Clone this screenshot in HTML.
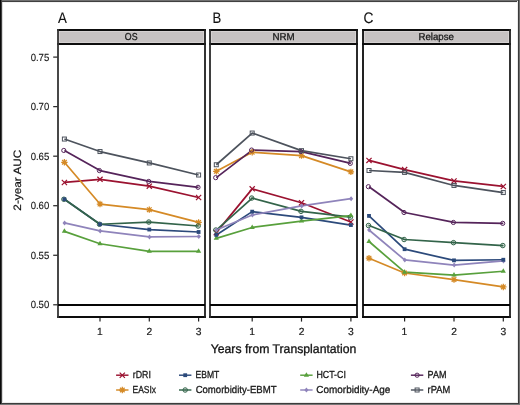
<!DOCTYPE html>
<html><head><meta charset="utf-8"><style>
html,body{margin:0;padding:0;background:#fff;width:520px;height:405px;overflow:hidden}
svg text{filter:grayscale(1);text-rendering:geometricPrecision}
</style></head><body>
<svg width="520" height="405" viewBox="0 0 520 405" style="display:block"><rect x="0" y="0" width="520" height="405" fill="#ffffff"/><rect x="58" y="30" width="147" height="14" fill="#c6c2c2"/><rect x="59.3" y="31.3" width="144.4" height="11.4" fill="none" stroke="#dcd8d8" stroke-width="0.8"/><line x1="57.1" y1="30" x2="205.9" y2="30" stroke="#0d0d0d" stroke-width="1.8"/><line x1="57.1" y1="44" x2="205.9" y2="44" stroke="#0d0d0d" stroke-width="1.8"/><line x1="57.1" y1="317" x2="205.9" y2="317" stroke="#0d0d0d" stroke-width="1.8"/><line x1="58" y1="29.1" x2="58" y2="317.9" stroke="#353535" stroke-width="1.8"/><line x1="205" y1="29.1" x2="205" y2="317.9" stroke="#1e1e1e" stroke-width="1.8"/><text x="124.80" y="39.90" font-family='"Liberation Sans", sans-serif' font-size="10" fill="#1a1a1a" stroke="#1a1a1a" stroke-width="0.3" textLength="12.72" lengthAdjust="spacingAndGlyphs">OS</text><text x="58.12" y="22.75" font-family='"Liberation Sans", sans-serif' font-size="15.3" fill="#111" stroke="#111" stroke-width="0.12" textLength="8.87" lengthAdjust="spacingAndGlyphs">A</text><line x1="58" y1="305" x2="205" y2="305" stroke="#050505" stroke-width="1.8"/><line x1="100" y1="317.9" x2="100" y2="321.6" stroke="#222" stroke-width="1.2"/><text x="96.99" y="334.50" font-family='"Liberation Sans", sans-serif' font-size="10.3" fill="#1a1a1a" stroke="#1a1a1a" stroke-width="0.2" textLength="5.73" lengthAdjust="spacingAndGlyphs">1</text><line x1="149.3" y1="317.9" x2="149.3" y2="321.6" stroke="#222" stroke-width="1.2"/><text x="146.46" y="334.50" font-family='"Liberation Sans", sans-serif' font-size="10.3" fill="#1a1a1a" stroke="#1a1a1a" stroke-width="0.2" textLength="5.73" lengthAdjust="spacingAndGlyphs">2</text><line x1="198.6" y1="317.9" x2="198.6" y2="321.6" stroke="#222" stroke-width="1.2"/><text x="195.72" y="334.50" font-family='"Liberation Sans", sans-serif' font-size="10.3" fill="#1a1a1a" stroke="#1a1a1a" stroke-width="0.2" textLength="5.73" lengthAdjust="spacingAndGlyphs">3</text><polyline points="64.40,182.45 100.00,179.35 149.30,186.15 198.60,197.50" fill="none" stroke="#9b1230" stroke-width="1.7" stroke-linejoin="round"/><polyline points="64.40,162.25 100.00,204.05 149.30,209.65 198.60,222.40" fill="none" stroke="#d58a26" stroke-width="1.7" stroke-linejoin="round"/><polyline points="64.40,199.25 100.00,224.25 149.30,229.55 198.60,232.00" fill="none" stroke="#2c4a7b" stroke-width="1.7" stroke-linejoin="round"/><polyline points="64.40,199.25 100.00,224.25 149.30,222.05 198.60,226.00" fill="none" stroke="#33644a" stroke-width="1.7" stroke-linejoin="round"/><polyline points="64.40,231.35 100.00,243.75 149.30,251.35 198.60,251.30" fill="none" stroke="#58a03c" stroke-width="1.7" stroke-linejoin="round"/><polyline points="64.40,222.95 100.00,230.95 149.30,236.95 198.60,236.50" fill="none" stroke="#8f84bb" stroke-width="1.7" stroke-linejoin="round"/><polyline points="64.40,150.45 100.00,170.55 149.30,181.45 198.60,187.30" fill="none" stroke="#55245a" stroke-width="1.7" stroke-linejoin="round"/><polyline points="64.40,139.05 100.00,151.55 149.30,162.95 198.60,175.00" fill="none" stroke="#4d535d" stroke-width="1.7" stroke-linejoin="round"/><path d="M61.80,179.85L67.00,185.05M61.80,185.05L67.00,179.85" stroke="#9b1230" stroke-width="1.2" fill="none"/><path d="M97.40,176.75L102.60,181.95M97.40,181.95L102.60,176.75" stroke="#9b1230" stroke-width="1.2" fill="none"/><path d="M146.70,183.55L151.90,188.75M146.70,188.75L151.90,183.55" stroke="#9b1230" stroke-width="1.2" fill="none"/><path d="M196.00,194.90L201.20,200.10M196.00,200.10L201.20,194.90" stroke="#9b1230" stroke-width="1.2" fill="none"/><path d="M61.20,162.25H67.60M64.40,159.05V165.45M62.10,159.95L66.70,164.55M62.10,164.55L66.70,159.95" stroke="#d58a26" stroke-width="1.25" fill="none"/><path d="M96.80,204.05H103.20M100.00,200.85V207.25M97.70,201.75L102.30,206.35M97.70,206.35L102.30,201.75" stroke="#d58a26" stroke-width="1.25" fill="none"/><path d="M146.10,209.65H152.50M149.30,206.45V212.85M147.00,207.35L151.60,211.95M147.00,211.95L151.60,207.35" stroke="#d58a26" stroke-width="1.25" fill="none"/><path d="M195.40,222.40H201.80M198.60,219.20V225.60M196.30,220.10L200.90,224.70M196.30,224.70L200.90,220.10" stroke="#d58a26" stroke-width="1.25" fill="none"/><circle cx="63.90" cy="199.25" r="2.25" fill="none" stroke="#33644a" stroke-width="1.0"/><path d="M61.65,199.25H66.15M63.90,197.00V201.50" stroke="#33644a" stroke-width="0.45" stroke-opacity="0.8"/><circle cx="99.50" cy="224.25" r="2.25" fill="none" stroke="#33644a" stroke-width="1.0"/><path d="M97.25,224.25H101.75M99.50,222.00V226.50" stroke="#33644a" stroke-width="0.45" stroke-opacity="0.8"/><circle cx="148.80" cy="222.05" r="2.25" fill="none" stroke="#33644a" stroke-width="1.0"/><path d="M146.55,222.05H151.05M148.80,219.80V224.30" stroke="#33644a" stroke-width="0.45" stroke-opacity="0.8"/><circle cx="198.10" cy="226.00" r="2.25" fill="none" stroke="#33644a" stroke-width="1.0"/><path d="M195.85,226.00H200.35M198.10,223.75V228.25" stroke="#33644a" stroke-width="0.45" stroke-opacity="0.8"/><path d="M64.60,220.45L66.70,222.95L64.60,225.45L62.50,222.95Z" fill="#8f84bb"/><path d="M100.20,228.45L102.30,230.95L100.20,233.45L98.10,230.95Z" fill="#8f84bb"/><path d="M149.50,234.45L151.60,236.95L149.50,239.45L147.40,236.95Z" fill="#8f84bb"/><path d="M198.80,234.00L200.90,236.50L198.80,239.00L196.70,236.50Z" fill="#8f84bb"/><path d="M64.40,228.35L67.00,232.85L61.80,232.85Z" fill="#58a03c"/><path d="M100.00,240.75L102.60,245.25L97.40,245.25Z" fill="#58a03c"/><path d="M149.30,248.35L151.90,252.85L146.70,252.85Z" fill="#58a03c"/><path d="M198.60,248.30L201.20,252.80L196.00,252.80Z" fill="#58a03c"/><rect x="62.50" y="197.35" width="3.80" height="3.80" fill="#2c4a7b"/><rect x="98.10" y="222.35" width="3.80" height="3.80" fill="#2c4a7b"/><rect x="147.40" y="227.65" width="3.80" height="3.80" fill="#2c4a7b"/><rect x="196.70" y="230.10" width="3.80" height="3.80" fill="#2c4a7b"/><circle cx="63.80" cy="150.45" r="2.1" fill="none" stroke="#55245a" stroke-width="1.0"/><circle cx="99.40" cy="170.55" r="2.1" fill="none" stroke="#55245a" stroke-width="1.0"/><circle cx="148.70" cy="181.45" r="2.1" fill="none" stroke="#55245a" stroke-width="1.0"/><circle cx="198.00" cy="187.30" r="2.1" fill="none" stroke="#55245a" stroke-width="1.0"/><rect x="62.40" y="137.05" width="4.00" height="4.00" fill="none" stroke="#4d535d" stroke-width="1.0"/><rect x="98.00" y="149.55" width="4.00" height="4.00" fill="none" stroke="#4d535d" stroke-width="1.0"/><rect x="147.30" y="160.95" width="4.00" height="4.00" fill="none" stroke="#4d535d" stroke-width="1.0"/><rect x="196.60" y="173.00" width="4.00" height="4.00" fill="none" stroke="#4d535d" stroke-width="1.0"/><rect x="210" y="30" width="147" height="14" fill="#c6c2c2"/><rect x="211.3" y="31.3" width="144.4" height="11.4" fill="none" stroke="#dcd8d8" stroke-width="0.8"/><line x1="209.1" y1="30" x2="357.9" y2="30" stroke="#0d0d0d" stroke-width="1.8"/><line x1="209.1" y1="44" x2="357.9" y2="44" stroke="#0d0d0d" stroke-width="1.8"/><line x1="209.1" y1="317" x2="357.9" y2="317" stroke="#0d0d0d" stroke-width="1.8"/><line x1="210" y1="29.1" x2="210" y2="317.9" stroke="#2a2a2a" stroke-width="1.8"/><line x1="357" y1="29.1" x2="357" y2="317.9" stroke="#141414" stroke-width="1.8"/><text x="272.54" y="39.90" font-family='"Liberation Sans", sans-serif' font-size="10" fill="#1a1a1a" stroke="#1a1a1a" stroke-width="0.3" textLength="22.20" lengthAdjust="spacingAndGlyphs">NRM</text><text x="212.46" y="22.75" font-family='"Liberation Sans", sans-serif' font-size="15.3" fill="#111" stroke="#111" stroke-width="0.12" textLength="8.77" lengthAdjust="spacingAndGlyphs">B</text><line x1="210" y1="305" x2="357" y2="305" stroke="#050505" stroke-width="1.8"/><line x1="252.2" y1="317.9" x2="252.2" y2="321.6" stroke="#222" stroke-width="1.2"/><text x="249.19" y="334.50" font-family='"Liberation Sans", sans-serif' font-size="10.3" fill="#1a1a1a" stroke="#1a1a1a" stroke-width="0.2" textLength="5.73" lengthAdjust="spacingAndGlyphs">1</text><line x1="301.5" y1="317.9" x2="301.5" y2="321.6" stroke="#222" stroke-width="1.2"/><text x="298.65" y="334.50" font-family='"Liberation Sans", sans-serif' font-size="10.3" fill="#1a1a1a" stroke="#1a1a1a" stroke-width="0.2" textLength="5.73" lengthAdjust="spacingAndGlyphs">2</text><line x1="350.9" y1="317.9" x2="350.9" y2="321.6" stroke="#222" stroke-width="1.2"/><text x="348.02" y="334.50" font-family='"Liberation Sans", sans-serif' font-size="10.3" fill="#1a1a1a" stroke="#1a1a1a" stroke-width="0.2" textLength="5.73" lengthAdjust="spacingAndGlyphs">3</text><polyline points="216.30,232.65 252.20,188.85 301.50,202.75 350.90,222.05" fill="none" stroke="#9b1230" stroke-width="1.7" stroke-linejoin="round"/><polyline points="216.30,171.35 252.20,152.25 301.50,155.65 350.90,171.85" fill="none" stroke="#d58a26" stroke-width="1.7" stroke-linejoin="round"/><polyline points="216.30,234.95 252.20,211.65 301.50,217.35 350.90,225.05" fill="none" stroke="#2c4a7b" stroke-width="1.7" stroke-linejoin="round"/><polyline points="216.30,230.05 252.20,198.05 301.50,211.35 350.90,217.15" fill="none" stroke="#33644a" stroke-width="1.7" stroke-linejoin="round"/><polyline points="216.30,238.35 252.20,227.45 301.50,221.05 350.90,215.55" fill="none" stroke="#58a03c" stroke-width="1.7" stroke-linejoin="round"/><polyline points="216.30,230.05 252.20,215.05 301.50,205.95 350.90,198.65" fill="none" stroke="#8f84bb" stroke-width="1.7" stroke-linejoin="round"/><polyline points="216.30,177.65 252.20,150.05 301.50,151.55 350.90,163.35" fill="none" stroke="#55245a" stroke-width="1.7" stroke-linejoin="round"/><polyline points="216.30,164.75 252.20,133.05 301.50,150.65 350.90,158.75" fill="none" stroke="#4d535d" stroke-width="1.7" stroke-linejoin="round"/><path d="M213.70,230.05L218.90,235.25M213.70,235.25L218.90,230.05" stroke="#9b1230" stroke-width="1.2" fill="none"/><path d="M249.60,186.25L254.80,191.45M249.60,191.45L254.80,186.25" stroke="#9b1230" stroke-width="1.2" fill="none"/><path d="M298.90,200.15L304.10,205.35M298.90,205.35L304.10,200.15" stroke="#9b1230" stroke-width="1.2" fill="none"/><path d="M348.30,219.45L353.50,224.65M348.30,224.65L353.50,219.45" stroke="#9b1230" stroke-width="1.2" fill="none"/><path d="M213.10,171.35H219.50M216.30,168.15V174.55M214.00,169.05L218.60,173.65M214.00,173.65L218.60,169.05" stroke="#d58a26" stroke-width="1.25" fill="none"/><path d="M249.00,152.25H255.40M252.20,149.05V155.45M249.90,149.95L254.50,154.55M249.90,154.55L254.50,149.95" stroke="#d58a26" stroke-width="1.25" fill="none"/><path d="M298.30,155.65H304.70M301.50,152.45V158.85M299.20,153.35L303.80,157.95M299.20,157.95L303.80,153.35" stroke="#d58a26" stroke-width="1.25" fill="none"/><path d="M347.70,171.85H354.10M350.90,168.65V175.05M348.60,169.55L353.20,174.15M348.60,174.15L353.20,169.55" stroke="#d58a26" stroke-width="1.25" fill="none"/><circle cx="215.80" cy="230.05" r="2.25" fill="none" stroke="#33644a" stroke-width="1.0"/><path d="M213.55,230.05H218.05M215.80,227.80V232.30" stroke="#33644a" stroke-width="0.45" stroke-opacity="0.8"/><circle cx="251.70" cy="198.05" r="2.25" fill="none" stroke="#33644a" stroke-width="1.0"/><path d="M249.45,198.05H253.95M251.70,195.80V200.30" stroke="#33644a" stroke-width="0.45" stroke-opacity="0.8"/><circle cx="301.00" cy="211.35" r="2.25" fill="none" stroke="#33644a" stroke-width="1.0"/><path d="M298.75,211.35H303.25M301.00,209.10V213.60" stroke="#33644a" stroke-width="0.45" stroke-opacity="0.8"/><circle cx="350.40" cy="217.15" r="2.25" fill="none" stroke="#33644a" stroke-width="1.0"/><path d="M348.15,217.15H352.65M350.40,214.90V219.40" stroke="#33644a" stroke-width="0.45" stroke-opacity="0.8"/><path d="M216.50,227.55L218.60,230.05L216.50,232.55L214.40,230.05Z" fill="#8f84bb"/><path d="M252.40,212.55L254.50,215.05L252.40,217.55L250.30,215.05Z" fill="#8f84bb"/><path d="M301.70,203.45L303.80,205.95L301.70,208.45L299.60,205.95Z" fill="#8f84bb"/><path d="M351.10,196.15L353.20,198.65L351.10,201.15L349.00,198.65Z" fill="#8f84bb"/><path d="M216.30,235.35L218.90,239.85L213.70,239.85Z" fill="#58a03c"/><path d="M252.20,224.45L254.80,228.95L249.60,228.95Z" fill="#58a03c"/><path d="M301.50,218.05L304.10,222.55L298.90,222.55Z" fill="#58a03c"/><path d="M350.90,212.55L353.50,217.05L348.30,217.05Z" fill="#58a03c"/><rect x="214.40" y="233.05" width="3.80" height="3.80" fill="#2c4a7b"/><rect x="250.30" y="209.75" width="3.80" height="3.80" fill="#2c4a7b"/><rect x="299.60" y="215.45" width="3.80" height="3.80" fill="#2c4a7b"/><rect x="349.00" y="223.15" width="3.80" height="3.80" fill="#2c4a7b"/><circle cx="215.70" cy="177.65" r="2.1" fill="none" stroke="#55245a" stroke-width="1.0"/><circle cx="251.60" cy="150.05" r="2.1" fill="none" stroke="#55245a" stroke-width="1.0"/><circle cx="300.90" cy="151.55" r="2.1" fill="none" stroke="#55245a" stroke-width="1.0"/><circle cx="350.30" cy="163.35" r="2.1" fill="none" stroke="#55245a" stroke-width="1.0"/><rect x="214.30" y="162.75" width="4.00" height="4.00" fill="none" stroke="#4d535d" stroke-width="1.0"/><rect x="250.20" y="131.05" width="4.00" height="4.00" fill="none" stroke="#4d535d" stroke-width="1.0"/><rect x="299.50" y="148.65" width="4.00" height="4.00" fill="none" stroke="#4d535d" stroke-width="1.0"/><rect x="348.90" y="156.75" width="4.00" height="4.00" fill="none" stroke="#4d535d" stroke-width="1.0"/><rect x="363" y="30" width="147" height="14" fill="#c6c2c2"/><rect x="364.3" y="31.3" width="144.4" height="11.4" fill="none" stroke="#dcd8d8" stroke-width="0.8"/><line x1="362.1" y1="30" x2="510.9" y2="30" stroke="#0d0d0d" stroke-width="1.8"/><line x1="362.1" y1="44" x2="510.9" y2="44" stroke="#0d0d0d" stroke-width="1.8"/><line x1="362.1" y1="317" x2="510.9" y2="317" stroke="#0d0d0d" stroke-width="1.8"/><line x1="363" y1="29.1" x2="363" y2="317.9" stroke="#0a0a0a" stroke-width="1.8"/><line x1="510" y1="29.1" x2="510" y2="317.9" stroke="#1e1e1e" stroke-width="1.8"/><text x="418.45" y="39.90" font-family='"Liberation Sans", sans-serif' font-size="10" fill="#1a1a1a" stroke="#1a1a1a" stroke-width="0.3" textLength="35.46" lengthAdjust="spacingAndGlyphs">Relapse</text><text x="363.41" y="22.75" font-family='"Liberation Sans", sans-serif' font-size="15.3" fill="#111" stroke="#111" stroke-width="0.12" textLength="9.91" lengthAdjust="spacingAndGlyphs">C</text><line x1="363" y1="305" x2="510" y2="305" stroke="#050505" stroke-width="1.8"/><line x1="404.6" y1="317.9" x2="404.6" y2="321.6" stroke="#222" stroke-width="1.2"/><text x="401.60" y="334.50" font-family='"Liberation Sans", sans-serif' font-size="10.3" fill="#1a1a1a" stroke="#1a1a1a" stroke-width="0.2" textLength="5.73" lengthAdjust="spacingAndGlyphs">1</text><line x1="454" y1="317.9" x2="454" y2="321.6" stroke="#222" stroke-width="1.2"/><text x="451.15" y="334.50" font-family='"Liberation Sans", sans-serif' font-size="10.3" fill="#1a1a1a" stroke="#1a1a1a" stroke-width="0.2" textLength="5.73" lengthAdjust="spacingAndGlyphs">2</text><line x1="503.3" y1="317.9" x2="503.3" y2="321.6" stroke="#222" stroke-width="1.2"/><text x="500.43" y="334.50" font-family='"Liberation Sans", sans-serif' font-size="10.3" fill="#1a1a1a" stroke="#1a1a1a" stroke-width="0.2" textLength="5.73" lengthAdjust="spacingAndGlyphs">3</text><polyline points="369.00,160.40 404.60,169.60 454.00,180.95 503.30,186.45" fill="none" stroke="#9b1230" stroke-width="1.7" stroke-linejoin="round"/><polyline points="369.00,258.20 404.60,273.00 454.00,279.55 503.30,286.95" fill="none" stroke="#d58a26" stroke-width="1.7" stroke-linejoin="round"/><polyline points="369.00,215.90 404.60,249.20 454.00,260.35 503.30,259.75" fill="none" stroke="#2c4a7b" stroke-width="1.7" stroke-linejoin="round"/><polyline points="369.00,225.50 404.60,239.50 454.00,242.65 503.30,245.55" fill="none" stroke="#33644a" stroke-width="1.7" stroke-linejoin="round"/><polyline points="369.00,241.50 404.60,272.20 454.00,275.05 503.30,271.25" fill="none" stroke="#58a03c" stroke-width="1.7" stroke-linejoin="round"/><polyline points="369.00,230.00 404.60,259.90 454.00,265.05 503.30,260.95" fill="none" stroke="#8f84bb" stroke-width="1.7" stroke-linejoin="round"/><polyline points="369.00,186.70 404.60,212.50 454.00,222.45 503.30,223.35" fill="none" stroke="#55245a" stroke-width="1.7" stroke-linejoin="round"/><polyline points="369.00,170.50 404.60,172.40 454.00,185.45 503.30,192.55" fill="none" stroke="#4d535d" stroke-width="1.7" stroke-linejoin="round"/><path d="M366.40,157.80L371.60,163.00M366.40,163.00L371.60,157.80" stroke="#9b1230" stroke-width="1.2" fill="none"/><path d="M402.00,167.00L407.20,172.20M402.00,172.20L407.20,167.00" stroke="#9b1230" stroke-width="1.2" fill="none"/><path d="M451.40,178.35L456.60,183.55M451.40,183.55L456.60,178.35" stroke="#9b1230" stroke-width="1.2" fill="none"/><path d="M500.70,183.85L505.90,189.05M500.70,189.05L505.90,183.85" stroke="#9b1230" stroke-width="1.2" fill="none"/><path d="M365.80,258.20H372.20M369.00,255.00V261.40M366.70,255.90L371.30,260.50M366.70,260.50L371.30,255.90" stroke="#d58a26" stroke-width="1.25" fill="none"/><path d="M401.40,273.00H407.80M404.60,269.80V276.20M402.30,270.70L406.90,275.30M402.30,275.30L406.90,270.70" stroke="#d58a26" stroke-width="1.25" fill="none"/><path d="M450.80,279.55H457.20M454.00,276.35V282.75M451.70,277.25L456.30,281.85M451.70,281.85L456.30,277.25" stroke="#d58a26" stroke-width="1.25" fill="none"/><path d="M500.10,286.95H506.50M503.30,283.75V290.15M501.00,284.65L505.60,289.25M501.00,289.25L505.60,284.65" stroke="#d58a26" stroke-width="1.25" fill="none"/><circle cx="368.50" cy="225.50" r="2.25" fill="none" stroke="#33644a" stroke-width="1.0"/><path d="M366.25,225.50H370.75M368.50,223.25V227.75" stroke="#33644a" stroke-width="0.45" stroke-opacity="0.8"/><circle cx="404.10" cy="239.50" r="2.25" fill="none" stroke="#33644a" stroke-width="1.0"/><path d="M401.85,239.50H406.35M404.10,237.25V241.75" stroke="#33644a" stroke-width="0.45" stroke-opacity="0.8"/><circle cx="453.50" cy="242.65" r="2.25" fill="none" stroke="#33644a" stroke-width="1.0"/><path d="M451.25,242.65H455.75M453.50,240.40V244.90" stroke="#33644a" stroke-width="0.45" stroke-opacity="0.8"/><circle cx="502.80" cy="245.55" r="2.25" fill="none" stroke="#33644a" stroke-width="1.0"/><path d="M500.55,245.55H505.05M502.80,243.30V247.80" stroke="#33644a" stroke-width="0.45" stroke-opacity="0.8"/><path d="M369.20,227.50L371.30,230.00L369.20,232.50L367.10,230.00Z" fill="#8f84bb"/><path d="M404.80,257.40L406.90,259.90L404.80,262.40L402.70,259.90Z" fill="#8f84bb"/><path d="M454.20,262.55L456.30,265.05L454.20,267.55L452.10,265.05Z" fill="#8f84bb"/><path d="M503.50,258.45L505.60,260.95L503.50,263.45L501.40,260.95Z" fill="#8f84bb"/><path d="M369.00,238.50L371.60,243.00L366.40,243.00Z" fill="#58a03c"/><path d="M404.60,269.20L407.20,273.70L402.00,273.70Z" fill="#58a03c"/><path d="M454.00,272.05L456.60,276.55L451.40,276.55Z" fill="#58a03c"/><path d="M503.30,268.25L505.90,272.75L500.70,272.75Z" fill="#58a03c"/><rect x="367.10" y="214.00" width="3.80" height="3.80" fill="#2c4a7b"/><rect x="402.70" y="247.30" width="3.80" height="3.80" fill="#2c4a7b"/><rect x="452.10" y="258.45" width="3.80" height="3.80" fill="#2c4a7b"/><rect x="501.40" y="257.85" width="3.80" height="3.80" fill="#2c4a7b"/><circle cx="368.40" cy="186.70" r="2.1" fill="none" stroke="#55245a" stroke-width="1.0"/><circle cx="404.00" cy="212.50" r="2.1" fill="none" stroke="#55245a" stroke-width="1.0"/><circle cx="453.40" cy="222.45" r="2.1" fill="none" stroke="#55245a" stroke-width="1.0"/><circle cx="502.70" cy="223.35" r="2.1" fill="none" stroke="#55245a" stroke-width="1.0"/><rect x="367.00" y="168.50" width="4.00" height="4.00" fill="none" stroke="#4d535d" stroke-width="1.0"/><rect x="402.60" y="170.40" width="4.00" height="4.00" fill="none" stroke="#4d535d" stroke-width="1.0"/><rect x="452.00" y="183.45" width="4.00" height="4.00" fill="none" stroke="#4d535d" stroke-width="1.0"/><rect x="501.30" y="190.55" width="4.00" height="4.00" fill="none" stroke="#4d535d" stroke-width="1.0"/><line x1="53.2" y1="57.10" x2="57.5" y2="57.10" stroke="#222" stroke-width="1.2"/><text x="30.64" y="60.50" font-family='"Liberation Sans", sans-serif' font-size="10.3" fill="#1a1a1a" stroke="#1a1a1a" stroke-width="0.15" textLength="18.64" lengthAdjust="spacingAndGlyphs">0.75</text><line x1="53.2" y1="106.64" x2="57.5" y2="106.64" stroke="#222" stroke-width="1.2"/><text x="30.64" y="110.04" font-family='"Liberation Sans", sans-serif' font-size="10.3" fill="#1a1a1a" stroke="#1a1a1a" stroke-width="0.15" textLength="18.59" lengthAdjust="spacingAndGlyphs">0.70</text><line x1="53.2" y1="156.18" x2="57.5" y2="156.18" stroke="#222" stroke-width="1.2"/><text x="30.64" y="159.58" font-family='"Liberation Sans", sans-serif' font-size="10.3" fill="#1a1a1a" stroke="#1a1a1a" stroke-width="0.15" textLength="18.64" lengthAdjust="spacingAndGlyphs">0.65</text><line x1="53.2" y1="205.72" x2="57.5" y2="205.72" stroke="#222" stroke-width="1.2"/><text x="30.64" y="209.12" font-family='"Liberation Sans", sans-serif' font-size="10.3" fill="#1a1a1a" stroke="#1a1a1a" stroke-width="0.15" textLength="18.59" lengthAdjust="spacingAndGlyphs">0.60</text><line x1="53.2" y1="255.26" x2="57.5" y2="255.26" stroke="#222" stroke-width="1.2"/><text x="30.64" y="258.66" font-family='"Liberation Sans", sans-serif' font-size="10.3" fill="#1a1a1a" stroke="#1a1a1a" stroke-width="0.15" textLength="18.64" lengthAdjust="spacingAndGlyphs">0.55</text><line x1="53.2" y1="304.80" x2="57.5" y2="304.80" stroke="#222" stroke-width="1.2"/><text x="30.64" y="308.20" font-family='"Liberation Sans", sans-serif' font-size="10.3" fill="#1a1a1a" stroke="#1a1a1a" stroke-width="0.15" textLength="18.59" lengthAdjust="spacingAndGlyphs">0.50</text><text x="210.74" y="352.60" font-family='"Liberation Sans", sans-serif' font-size="12.5" fill="#111" stroke="#111" stroke-width="0.3" textLength="145.59" lengthAdjust="spacingAndGlyphs">Years from Transplantation</text><g transform="translate(20.7,210.05) rotate(-90)"><text x="-0.62" y="0.00" font-family='"Liberation Sans", sans-serif' font-size="10.7" fill="#111" stroke="#111" stroke-width="0.2" textLength="60.99" lengthAdjust="spacingAndGlyphs">2-year AUC</text></g><line x1="116.1" y1="375.2" x2="128.5" y2="375.2" stroke="#9b1230" stroke-width="1.45"/><path d="M119.70,372.60L124.90,377.80M119.70,377.80L124.90,372.60" stroke="#9b1230" stroke-width="1.2" fill="none"/><text x="132.74" y="377.80" font-family='"Liberation Sans", sans-serif' font-size="10.2" fill="#1a1a1a" stroke="#1a1a1a" stroke-width="0.3" textLength="18.13" lengthAdjust="spacingAndGlyphs">rDRI</text><line x1="116.1" y1="390.0" x2="128.5" y2="390.0" stroke="#d58a26" stroke-width="1.45"/><path d="M119.10,390.00H125.50M122.30,386.80V393.20M120.00,387.70L124.60,392.30M120.00,392.30L124.60,387.70" stroke="#d58a26" stroke-width="1.25" fill="none"/><text x="132.56" y="392.60" font-family='"Liberation Sans", sans-serif' font-size="10.2" fill="#1a1a1a" stroke="#1a1a1a" stroke-width="0.3" textLength="23.52" lengthAdjust="spacingAndGlyphs">EASIx</text><line x1="179.0" y1="375.2" x2="191.39999999999998" y2="375.2" stroke="#2c4a7b" stroke-width="1.45"/><rect x="183.30" y="373.30" width="3.80" height="3.80" fill="#2c4a7b"/><text x="195.55" y="377.80" font-family='"Liberation Sans", sans-serif' font-size="10.2" fill="#1a1a1a" stroke="#1a1a1a" stroke-width="0.3" textLength="23.80" lengthAdjust="spacingAndGlyphs">EBMT</text><line x1="179.0" y1="390.0" x2="191.39999999999998" y2="390.0" stroke="#33644a" stroke-width="1.45"/><circle cx="185.20" cy="390.00" r="2.25" fill="none" stroke="#33644a" stroke-width="1.0"/><path d="M182.95,390.00H187.45M185.20,387.75V392.25" stroke="#33644a" stroke-width="0.45" stroke-opacity="0.8"/><text x="195.63" y="392.60" font-family='"Liberation Sans", sans-serif' font-size="10.2" fill="#1a1a1a" stroke="#1a1a1a" stroke-width="0.3" textLength="80.89" lengthAdjust="spacingAndGlyphs">Comorbidity-EBMT</text><line x1="300.2" y1="375.2" x2="312.59999999999997" y2="375.2" stroke="#58a03c" stroke-width="1.45"/><path d="M306.40,372.20L309.00,376.70L303.80,376.70Z" fill="#58a03c"/><text x="316.38" y="377.80" font-family='"Liberation Sans", sans-serif' font-size="10.2" fill="#1a1a1a" stroke="#1a1a1a" stroke-width="0.3" textLength="29.47" lengthAdjust="spacingAndGlyphs">HCT-CI</text><line x1="300.2" y1="390.0" x2="312.59999999999997" y2="390.0" stroke="#8f84bb" stroke-width="1.45"/><path d="M306.40,387.50L308.50,390.00L306.40,392.50L304.30,390.00Z" fill="#8f84bb"/><text x="316.36" y="392.60" font-family='"Liberation Sans", sans-serif' font-size="10.2" fill="#1a1a1a" stroke="#1a1a1a" stroke-width="0.3" textLength="73.95" lengthAdjust="spacingAndGlyphs">Comorbidity-Age</text><line x1="410.90000000000003" y1="375.2" x2="423.3" y2="375.2" stroke="#55245a" stroke-width="1.45"/><circle cx="417.10" cy="375.20" r="2.1" fill="none" stroke="#55245a" stroke-width="1.0"/><text x="427.62" y="377.80" font-family='"Liberation Sans", sans-serif' font-size="10.2" fill="#1a1a1a" stroke="#1a1a1a" stroke-width="0.3" textLength="18.85" lengthAdjust="spacingAndGlyphs">PAM</text><line x1="410.90000000000003" y1="390.0" x2="423.3" y2="390.0" stroke="#4d535d" stroke-width="1.45"/><rect x="415.10" y="388.00" width="4.00" height="4.00" fill="none" stroke="#4d535d" stroke-width="1.0"/><text x="427.61" y="392.60" font-family='"Liberation Sans", sans-serif' font-size="10.2" fill="#1a1a1a" stroke="#1a1a1a" stroke-width="0.3" textLength="22.61" lengthAdjust="spacingAndGlyphs">rPAM</text><rect x="0" y="0" width="520" height="1" fill="#707070"/><rect x="0" y="1" width="520" height="1" fill="#404040"/><rect x="2" y="2" width="516" height="1" fill="#f2f2f2"/><rect x="0" y="0" width="1" height="405" fill="#0a0a0a"/><rect x="1" y="0" width="1" height="405" fill="#404040"/><rect x="2" y="2" width="1" height="401" fill="#dadada"/><rect x="517" y="1" width="1" height="402" fill="#eaeaea"/><rect x="518" y="0" width="1" height="405" fill="#3a3a3a"/><rect x="519" y="0" width="1" height="405" fill="#6e6e6e"/><rect x="2" y="402" width="516" height="1" fill="#eaeaea"/><rect x="1" y="403" width="518" height="1" fill="#3c3c3c"/><rect x="0" y="404" width="520" height="1" fill="#787878"/></svg>
</body></html>
